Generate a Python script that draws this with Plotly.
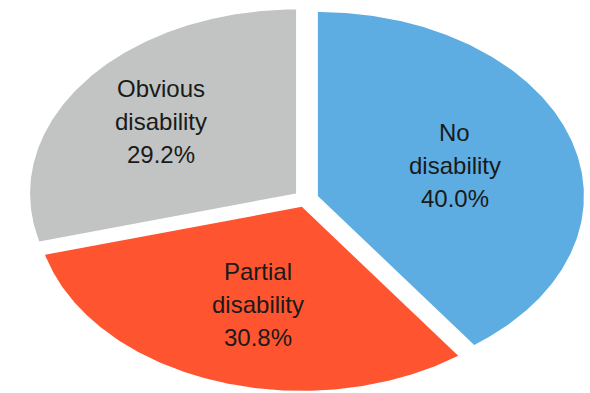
import numpy as np
import plotly.graph_objects as go

labels = [["No", "disability"], ["Partial", "disability"], ["Obvious", "disability"]]
values = [40.0, 30.8, 29.2]
colors = ["#5DADE2", "#FE5430", "#C1C4C3"]

PULL = 0.047
LABEL_R = [0.54, 0.56, 0.64]
LINE_GAP = 33

fig = go.Figure()
total = sum(values)
start = 0.0
for lab, v, col, lr in zip(labels, values, colors, LABEL_R):
    a0 = start / total * 2 * np.pi
    a1 = (start + v) / total * 2 * np.pi
    mid = (a0 + a1) / 2
    ox, oy = PULL * np.sin(mid), PULL * np.cos(mid)
    t = np.linspace(a0, a1, 200)
    xs = np.concatenate([[ox], ox + np.sin(t), [ox]])
    ys = np.concatenate([[oy], oy + np.cos(t), [oy]])
    fig.add_trace(go.Scatter(x=xs, y=ys, mode="lines", fill="toself",
                             fillcolor=col, line=dict(width=0, color=col),
                             hoverinfo="skip", showlegend=False))
    lines = lab + [f"{v:.1f}%"]
    for i, txt in enumerate(lines):
        fig.add_annotation(x=ox + lr * np.sin(mid), y=oy + lr * np.cos(mid),
                           text=txt, showarrow=False,
                           yshift=(1 - i) * LINE_GAP,
                           xshift=6 if lab[0] == "Partial" else 0,
                           font=dict(family="Liberation Sans, Arial, sans-serif", size=24, color="#1a1a1a"),
                           align="center")
    start += v

fig.update_layout(
    width=590, height=393,
    margin=dict(l=0, r=0, t=0, b=0),
    paper_bgcolor="white", plot_bgcolor="white",
    xaxis=dict(range=[-306 / 266, 284 / 266], visible=False, fixedrange=True),
    yaxis=dict(range=[-(393 - 198.7) / 184, 198.7 / 184], visible=False, fixedrange=True),
)
fig.write_html("out.html")
